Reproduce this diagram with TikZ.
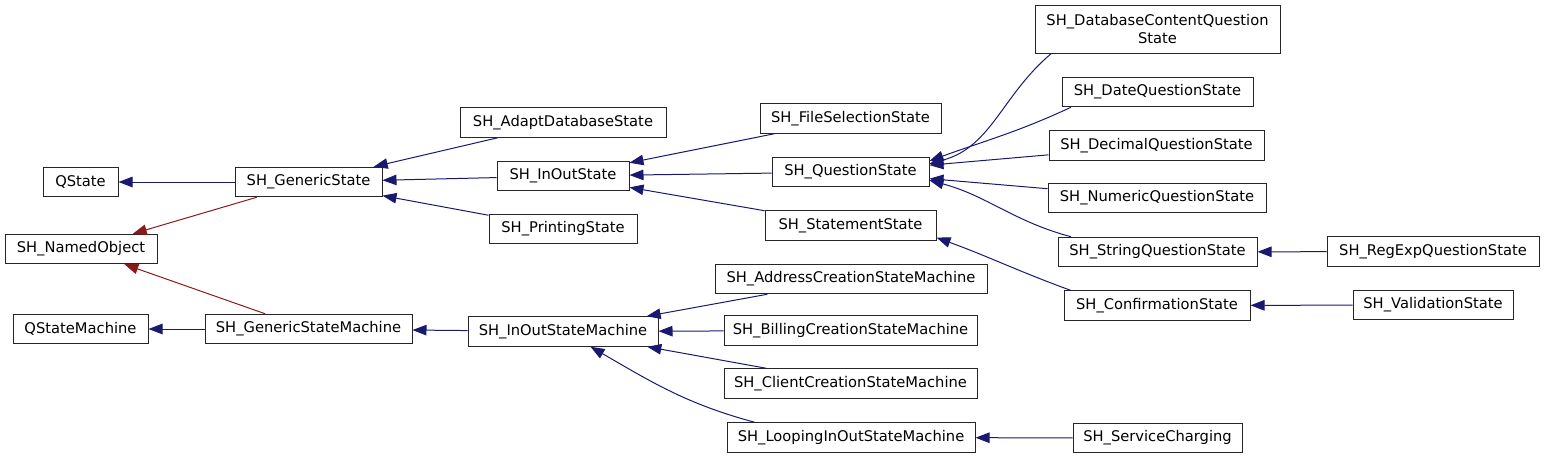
\documentclass[tikz,border=0pt]{standalone}
\usepackage{fontspec}
\setmainfont{DejaVu Sans}
\usetikzlibrary{arrows.meta}
\definecolor{inhblue}{HTML}{191970}
\definecolor{inhred}{HTML}{8B1A1A}
\tikzset{
  cls/.style={
    shape = rectangle,
    draw = black!85,
    line width = 1pt,
    inner sep = 2pt,
    minimum height = 29.5pt,
    align = center,
    font = \fontsize{14.7}{18}\selectfont
  },
  pubinh/.style={
    color = inhblue,
    line width = 1pt,
    -{Triangle[length=14pt,width=10.5pt]}
  },
  privinh/.style={
    pubinh,
    color = inhred
  },
}

\begin{document}
\begin{tikzpicture}[x=1pt,y=-1pt]
\useasboundingbox (0,0) rectangle (1544,459);
% classes
\foreach \n/\x/\y/\w/\t in {
    qstate/80.5/182/75pt/QState,
    gstate/308.5/182/147pt/SH\_GenericState,
    named/81/249/152pt/SH\_NamedObject,
    qsm/80.5/329/135pt/QStateMachine,
    gsm/308.5/329/207pt/SH\_GenericStateMachine,
    adapt/563/122.5/206pt/SH\_AdaptDatabaseState,
    inout/563/176/132pt/SH\_InOutState,
    printing/563/229/148pt/SH\_PrintingState,
    iosm/563/331.5/190pt/SH\_InOutStateMachine,
    filesel/850.5/118.5/181pt/SH\_FileSelectionState,
    question/850.5/172/157pt/SH\_QuestionState,
    statement/850.5/225.5/171pt/SH\_StatementState,
    address/851/279/272pt/SH\_AddressCreationStateMachine,
    billing/850.5/330.5/253pt/SH\_BillingCreationStateMachine,
    client/850.5/383.5/253pt/SH\_ClientCreationStateMachine,
    looping/851/437.5/248pt/SH\_LoopingInOutStateMachine,
    date/1157.5/92/191pt/SH\_DateQuestionState,
    decimal/1156.5/145.5/215pt/SH\_DecimalQuestionState,
    numeric/1157/198/218pt/SH\_NumericQuestionState,
    string/1157.5/252/199pt/SH\_StringQuestionState,
    confirm/1157/305.5/186pt/SH\_ConfirmationState,
    service/1157.5/438/169pt/SH\_ServiceCharging,
    regexp/1433/251.5/212pt/SH\_RegExpQuestionState,
    valid/1433/305/160pt/SH\_ValidationState}
  \node[cls, minimum width=\w] (\n) at (\x,\y) {\t};
\node[cls, minimum width=245pt, minimum height=48pt] (dbq) at (1157.5,29) {SH\_DatabaseContentQuestion\\State};
% inheritance
\foreach \c/\p in {gstate/qstate, gsm/qsm, adapt/gstate, inout/gstate, printing/gstate,
    filesel/inout, question/inout, statement/inout, iosm/gsm, address/iosm, billing/iosm,
    client/iosm, decimal/question, numeric/question, regexp/string, valid/confirm,
    service/looping}
  \draw[pubinh] (\c) -- (\p);
\draw[privinh] (gstate) -- (named);
\draw[privinh] (gsm) -- (named);
\draw[pubinh] (dbq.193) to[out=220,in=15] (question.6);
\draw[pubinh] (date.190) to[out=205,in=20] (question.8);
\draw[pubinh] (string.170) to[out=165,in=-15] (question.-6);
\draw[pubinh] (confirm.170) to[out=160,in=-20] (statement.-8);
\draw[pubinh] (looping.171) to[out=165,in=-30] (iosm.-29);
\end{tikzpicture}
\end{document}
